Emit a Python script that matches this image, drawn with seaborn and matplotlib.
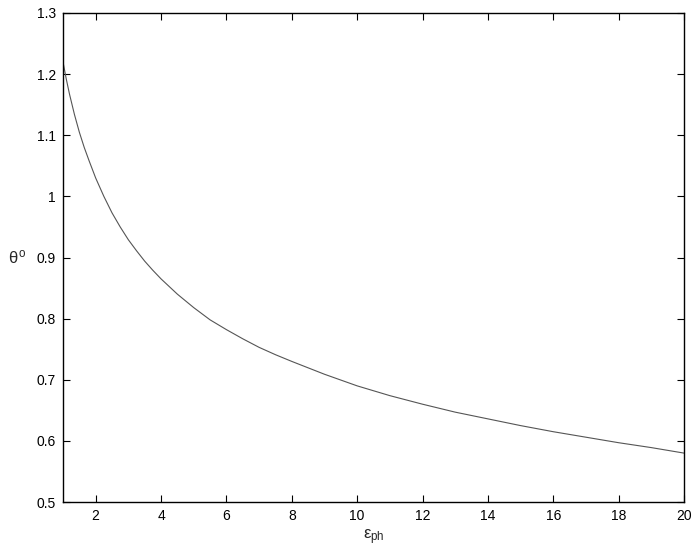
import matplotlib
matplotlib.use('Agg')
import matplotlib.pyplot as plt
import seaborn as sns
import pandas as pd

# values
eps_ph = [1.0, 1.1, 1.2, 1.35, 1.5, 1.65, 1.8, 2.0, 2.25, 2.5, 2.75, 3.0, 3.25, 3.5, 3.75,
          4.0, 4.5, 5.0, 5.5, 6.0, 6.5, 7.0, 7.5, 8.0, 9.0, 10.0,
          11.0, 12.0, 13.0, 14.0, 15.0, 16.0, 17.0, 18.0, 19.0, 20.0]
theta0 = [1.220, 1.192, 1.167, 1.134, 1.105, 1.080, 1.058, 1.030, 1.000, 0.973, 0.950,
          0.929, 0.911, 0.894, 0.879, 0.865, 0.840, 0.818, 0.798, 0.782, 0.767,
          0.753, 0.741, 0.730, 0.709, 0.690, 0.674, 0.660, 0.647, 0.636, 0.625,
          0.615, 0.606, 0.597, 0.589, 0.580]
xticks = [2, 4, 6, 8, 10, 12, 14, 16, 18, 20]
yticks = [0.5, 0.6, 0.7, 0.8, 0.9, 1.0, 1.1, 1.2, 1.3]
ytick_labels = ['0.5', '0.6', '0.7', '0.8', '0.9', '1', '1.1', '1.2', '1.3']

df = pd.DataFrame({'eps': eps_ph, 'theta': theta0})

sns.set_style('ticks')
plt.rcParams['font.family'] = ['Liberation Sans', 'DejaVu Sans']
plt.rcParams['mathtext.fontset'] = 'custom'
plt.rcParams['mathtext.rm'] = 'Liberation Sans'
plt.rcParams['mathtext.it'] = 'Liberation Sans'

fig = plt.figure(figsize=(6.96, 5.49), dpi=100)
ax = fig.add_axes([63 / 696, 1 - 502 / 549, 621 / 696, 489 / 549])

sns.lineplot(data=df, x='eps', y='theta', ax=ax, color='#555555', lw=0.8)

ax.set_xlim(1, 20)
ax.set_ylim(0.5, 1.3)
ax.set_xticks(xticks)
ax.set_yticks(yticks)
ax.set_yticklabels(ytick_labels)
ax.tick_params(direction='in', top=True, right=True, length=5, width=0.8,
               labelsize=10, colors='black', pad=5)
for s in ax.spines.values():
    s.set_linewidth(1.0)
    s.set_color('black')

ax.set_xlabel(r'$\epsilon_{\rm ph}$', fontsize=12, labelpad=3)
ax.set_ylabel(r'$\theta^{\rm o}$', fontsize=12, rotation=0, labelpad=14, va='center')

fig.savefig('out.png', dpi=100)
